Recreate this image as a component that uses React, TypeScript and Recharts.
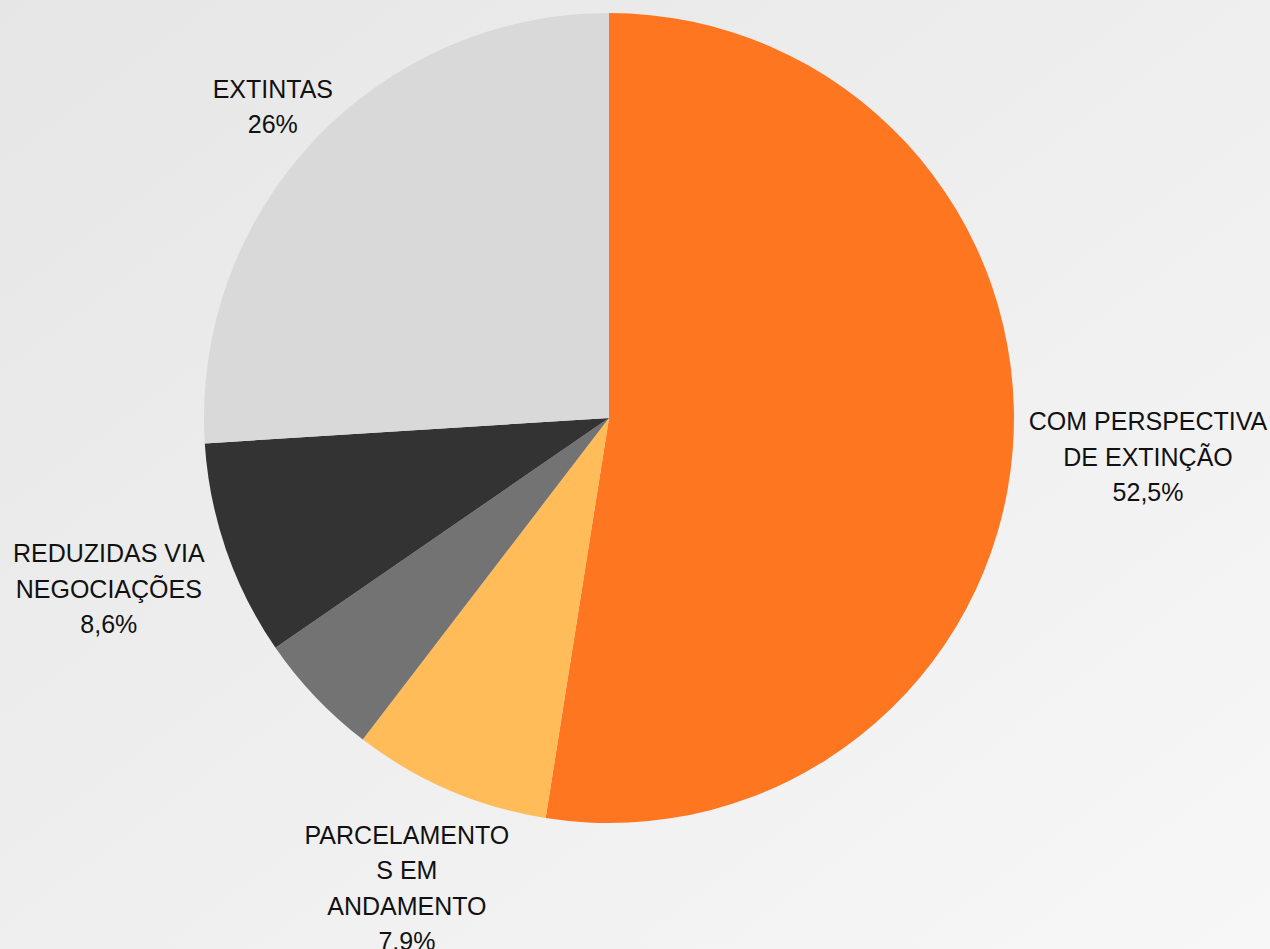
import { PieChart, Pie, Cell } from "recharts";

// slice order: clockwise from 12 o'clock
const names = [
    "COM PERSPECTIVA DE EXTINÇÃO",
    "PARCELAMENTOS EM ANDAMENTO",
    "OUTROS",
    "REDUZIDAS VIA NEGOCIAÇÕES",
    "EXTINTAS",
];
const values = [52.5, 7.9, 5.0, 8.6, 26.0];
// label text as printed
const labelLines = [
    ["COM PERSPECTIVA", "DE EXTINÇÃO"],
    ["PARCELAMENTO", "S EM", "ANDAMENTO"],
    [],
    ["REDUZIDAS VIA", "NEGOCIAÇÕES"],
    ["EXTINTAS"],
];
const labelPct = ["52,5%", "7,9%", "", "8,6%", "26%"];

const colors = ["#FF7621", "#FFBC59", "#737373", "#333333", "#D9D9D9"];

// label block centre, in units of the outer radius from the pie centre
const labelOffsets = [
    [1.331, 0.096],
    [-0.499, 1.16],
    [0, 0],
    [-1.235, 0.422],
    [-0.83, -0.769],
];

const data = names.map((name, i) => ({ name, value: values[i] }));

const LINE_H = 35.5;

function renderLabel(props: any) {
    const { cx, cy, outerRadius, index } = props;
    const lines = [...labelLines[index], labelPct[index]].filter((l) => l !== "");
    if (lines.length === 0) return null;
    const [fx, fy] = labelOffsets[index];
    const x = cx + fx * outerRadius;
    const y = cy + fy * outerRadius;
    const firstY = y - ((lines.length - 1) / 2) * LINE_H + 9;
    return (
        <text
            key={`lbl-${index}`}
            x={x}
            y={firstY}
            textAnchor="middle"
            fill="#111"
            fontSize={25}
            fontFamily="'Liberation Sans', Arial, sans-serif"
        >
            {lines.map((l, j) => (
                <tspan key={j} x={x} y={firstY + j * LINE_H}>
                    {l}
                </tspan>
            ))}
        </text>
    );
}

export default function App() {
    return (
        <div
            style={{
                position: "absolute",
                left: 0,
                top: 0,
                width: 1270,
                height: 949,
                overflow: "hidden",
                background: "linear-gradient(to bottom right, #e6e6e6, #f7f7f7)",
            }}
        >
            <PieChart width={1270} height={949} margin={{ top: 0, right: 0, bottom: 0, left: 0 }}>
                <Pie
                    data={data}
                    dataKey="value"
                    cx={609}
                    cy={418}
                    outerRadius={405}
                    startAngle={90}
                    endAngle={-270}
                    stroke="none"
                    label={renderLabel}
                    labelLine={false}
                    isAnimationActive={false}
                >
                    {data.map((d, i) => (
                        <Cell key={d.name} fill={colors[i]} />
                    ))}
                </Pie>
            </PieChart>
        </div>
    );
}
